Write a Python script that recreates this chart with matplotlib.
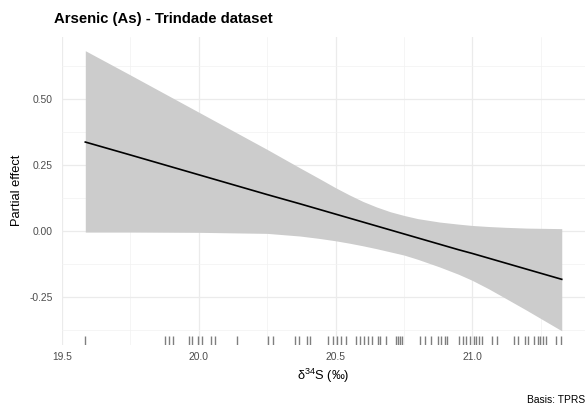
import matplotlib
matplotlib.use("Agg")
import matplotlib.pyplot as plt
import matplotlib.transforms as mtransforms

plt.rcParams['font.family'] = ['Liberation Sans', 'DejaVu Sans']
plt.rcParams['mathtext.fontset'] = 'custom'
plt.rcParams['mathtext.rm'] = 'Liberation Sans'
plt.rcParams['mathtext.it'] = 'Liberation Sans:italic'
plt.rcParams['axes.unicode_minus'] = False

# smooth (partial effect) and its confidence band
x_grid = [19.585, 19.75, 20.0, 20.25, 20.37, 20.44, 20.5, 20.55, 20.6, 20.65,
          20.7, 20.75, 20.8, 20.88, 20.95, 21.0, 21.06, 21.12, 21.2, 21.327]
fit = [0.338, 0.289, 0.214, 0.139, 0.104, 0.083, 0.065, 0.050, 0.035, 0.020,
       0.005, -0.010, -0.025, -0.049, -0.070, -0.084, -0.102, -0.120, -0.144, -0.182]
upper = [0.684, 0.592, 0.451, 0.310, 0.240, 0.200, 0.165, 0.138, 0.113, 0.092,
         0.074, 0.060, 0.048, 0.035, 0.027, 0.022, 0.018, 0.015, 0.012, 0.010]
lower = [-0.003, -0.003, -0.004, -0.008, -0.018, -0.027, -0.036, -0.045, -0.055, -0.066,
         -0.078, -0.090, -0.106, -0.135, -0.163, -0.186, -0.218, -0.253, -0.300, -0.377]

# observed d34S values (rug)
rug_x = [19.585, 19.877, 19.891, 19.906, 19.964, 19.974, 19.996, 20.010, 20.045,
         20.061, 20.140, 20.254, 20.270, 20.351, 20.366, 20.396, 20.406, 20.473,
         20.489, 20.506, 20.520, 20.538, 20.574, 20.589, 20.603, 20.619, 20.635,
         20.655, 20.662, 20.686, 20.720, 20.728, 20.735, 20.743, 20.810, 20.826,
         20.850, 20.874, 20.887, 20.899, 20.907, 20.951, 20.966, 20.978, 20.993,
         21.005, 21.015, 21.024, 21.036, 21.073, 21.090, 21.151, 21.166, 21.191,
         21.203, 21.227, 21.239, 21.248, 21.260, 21.270, 21.307, 21.325]

x_ticks = [19.5, 20.0, 20.5, 21.0]
y_ticks = [-0.25, 0.0, 0.25, 0.50]

W, H = 588, 413
fig = plt.figure(figsize=(W / 100, H / 100), dpi=100)
left, right, top, bottom = 61.5, 585, 36.7, 344.8
ax = fig.add_axes([left / W, 1 - bottom / H, (right - left) / W, (bottom - top) / H])

ax.fill_between(x_grid, lower, upper, color='#cccccc', linewidth=0, zorder=2)
ax.plot(x_grid, fit, color='black', linewidth=1.2, zorder=3)

trans = mtransforms.blended_transform_factory(ax.transData, ax.transAxes)
for xv in rug_x:
    ax.plot([xv, xv], [0, 0.03], transform=trans, color='black', alpha=0.5,
            linewidth=1.0, solid_capstyle='butt', zorder=3)

ax.set_xlim(19.498, 21.412)
ax.set_ylim(-0.430, 0.737)
ax.set_xticks(x_ticks)
ax.set_xticklabels(['%.1f' % v for v in x_ticks])
ax.set_yticks(y_ticks)
ax.set_yticklabels(['%.2f' % v for v in y_ticks])
ax.set_xticks([19.75, 20.25, 20.75, 21.25], minor=True)
ax.set_yticks([-0.375, -0.125, 0.125, 0.375, 0.625], minor=True)

ax.grid(which='major', color='#ebebeb', linewidth=0.9, zorder=0)
ax.grid(which='minor', color='#f2f2f2', linewidth=0.5, zorder=0)
ax.set_axisbelow(True)
for s in ax.spines.values():
    s.set_visible(False)
ax.tick_params(which='both', length=0)
ax.tick_params(axis='x', labelsize=7.4, labelcolor='#4d4d4d', pad=5)
ax.tick_params(axis='y', labelsize=7.4, labelcolor='#4d4d4d', pad=6.5)

fig.text(17 / W, 1 - 190.7 / H, 'Partial effect', rotation=90, ha='center',
         va='center', fontsize=9.3)
fig.text(323 / W, 1 - 376 / H, r'$\mathregular{\delta^{34}}$S (‰)', ha='center',
         va='center', fontsize=9.3)
fig.text(54 / W, 1 - 19 / H, 'Arsenic (As) - Trindade dataset', ha='left',
         va='center', fontsize=10.7, fontweight='bold')
fig.text(585 / W, 1 - 400 / H, 'Basis: TPRS', ha='right', va='center', fontsize=7.4)

fig.savefig('out.png', dpi=100, facecolor='white')
